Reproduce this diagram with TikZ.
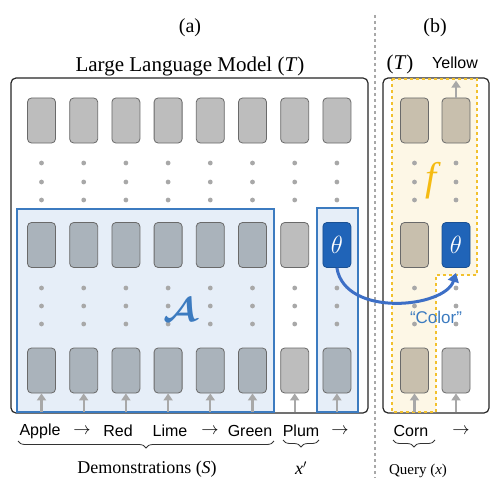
\documentclass[tikz,border=0pt]{standalone}
\usepackage{fontspec}
\setmainfont{Liberation Serif}
\newfontfamily\sansf{Liberation Sans}
\usepackage{bm}
\usepackage{graphicx}
\usetikzlibrary{arrows.meta,decorations.pathreplacing}
\definecolor{tokgray}{HTML}{BDBDBD}
\definecolor{tokblue}{HTML}{AAB3BB}
\definecolor{toktan}{HTML}{C8BFAD}
\definecolor{tokedge}{HTML}{6A6A6A}
\definecolor{boxblue}{HTML}{E6EEF8}
\definecolor{lineblue}{HTML}{3C7BC0}
\definecolor{thetablue}{HTML}{2064B8}
\definecolor{curveblue}{HTML}{3D6FC6}
\definecolor{yelfill}{HTML}{FDF7E6}
\definecolor{yelline}{HTML}{F2C12E}
\definecolor{dotgray}{HTML}{A8A8A8}
\definecolor{fyellow}{HTML}{F5BB12}
\tikzset{
  tok/.style={rounded corners=4pt, minimum width=28pt, minimum height=45pt, draw=tokedge, line width=0.8pt, inner sep=0pt},
  tokg/.style={tok, fill=tokgray},
  tokb/.style={tok, fill=tokblue},
  tokt/.style={tok, fill=toktan},
  tokth/.style={tok, fill=thetablue, draw=thetablue!80!black, text=white, font=\fontsize{24}{24}\selectfont},
  dotc/.style={fill=dotgray, draw=none},
  uparr/.style={draw=dotgray, line width=2.2pt, -{Triangle[length=7pt,width=9pt]}},
  lbl/.style={font=\sansf\fontsize{16}{18}\selectfont, inner sep=0pt},
  arr/.style={font=\fontsize{16}{18}\selectfont, inner sep=0pt},
  brc/.style={draw=black!80, line width=0.8pt, decorate, decoration={brace, mirror, amplitude=7pt}},
}
\newcommand{\boldA}{\resizebox{34pt}{23pt}{$\bm{\mathcal{A}}$}}
\begin{document}
\begin{tikzpicture}[x=1pt, y=-1pt]
\useasboundingbox (0,0) rectangle (500,492);
% main boxes
\draw[draw=black!85, line width=1.2pt, rounded corners=5pt, fill=white] (11,78) rectangle (368,413);
\draw[draw=black!85, line width=1.2pt, rounded corners=5pt, fill=white] (383,78) rectangle (489,413);
% blue regions
\draw[fill=boxblue, draw=lineblue, line width=1.5pt] (17,209) rectangle (274,412);
\draw[fill=boxblue, draw=lineblue, line width=1.5pt] (317,208) rectangle (358,412);
% yellow region
\draw[fill=yelfill, draw=yelline, dashed, line width=1.2pt] (392,79) -- (477,79) -- (477,275) -- (436,275) -- (436,412) -- (392,412) -- cycle;
% separator
\coordinate (s1) at (375,15);
\coordinate (s2) at (375,478);
\draw[dotgray, dashed, line width=1.2pt] (s1) -- (s2);
% dots
\foreach \xx in {41.5,83.7,125.9,168.1,210.3,252.5,294.7,336.9,414.5,456} {
  \foreach \yy in {163,182,200,288,306,324} {
    \fill[dotc] (\xx,\yy) circle (2.4pt);
  }
}
% left tokens
\foreach \i in {1,...,8} {
  \pgfmathsetmacro\xx{41.5+(\i-1)*42.2}
  \node[tokg] (t\i) at (\xx,120.5) {};
}
\foreach \i in {1,...,6} {
  \pgfmathsetmacro\xx{41.5+(\i-1)*42.2}
  \node[tokb] (m\i) at (\xx,245) {};
  \node[tokb] (b\i) at (\xx,370.5) {};
}
\node[tokg] (m7) at (294.7,245) {};
\node[tokg] (b7) at (294.7,370.5) {};
\node[tokth] (m8) at (336.9,245) {$\theta$};
\node[tokb] (b8) at (336.9,370.5) {};
% right tokens
\node[tokt] (rt1) at (414.5,120.5) {};
\node[tokt] (rt2) at (456,120.5) {};
\node[tokt] (rm1) at (414.5,245) {};
\node[tokth] (rm2) at (456,245) {$\theta$};
\node[tokt] (rb1) at (414.5,370.5) {};
\node[tokg] (rb2) at (456,370.5) {};
% input arrows
\foreach \n in {b1,b2,b3,b4,b5,b6,b7,b8,rb1,rb2} {
  \draw[uparr] ([yshift=-19pt]\n.south) -- (\n.south);
}
\draw[uparr] (rt2.north) -- ([yshift=17pt]rt2.north);
% curved arrow
\draw[curveblue, line width=3pt, -{Triangle[length=9pt,width=11pt]}] (m8.south) .. controls (345,318) and (445,308) .. ([yshift=-5pt]rm2.south);
% big symbols
\node[text=lineblue, inner sep=0pt] (A) at (180,310) {\boldA};
\node[text=fyellow, inner sep=0pt] (f) at (433,181) {\fontsize{40}{40}\selectfont\textit{f}};
\node[text=lineblue, inner sep=0pt] (col) at (436,317) {\sansf\fontsize{17}{18}\selectfont “Color”};
% titles
\node[inner sep=0pt] (ta) at (190,28) {\fontsize{20}{22}\selectfont (a)};
\node[inner sep=0pt] (tb) at (435,28) {\fontsize{20}{22}\selectfont (b)};
\node[inner sep=0pt] (llm) at (190,66) {\fontsize{21}{24}\selectfont Large Language Model (\textit{T})};
\node[inner sep=0pt] (tt) at (400,64) {\fontsize{21}{24}\selectfont (\textit{T})};
\node[lbl] (yel) at (455,63) {Yellow};
% bottom tokens
\node[lbl] (w1) at (40,431) {Apple};
\node[arr] (a1) at (82,431) {$\rightarrow$};
\node[lbl] (w2) at (118,431) {Red};
\node[lbl] (w3) at (170,431) {Lime};
\node[arr] (a2) at (210,431) {$\rightarrow$};
\node[lbl] (w4) at (250,431) {Green};
\node[lbl] (w5) at (301,431) {Plum};
\node[arr] (a3) at (340,431) {$\rightarrow$};
\node[lbl] (w6) at (411,431) {Corn};
\node[arr] (a4) at (461,431) {$\rightarrow$};
% braces
\draw[brc] (18,441) -- (274,441);
\draw[brc] (283,440) -- (319,440);
\draw[brc] (393,440) -- (435,440);
\node[inner sep=0pt] (dem) at (147,469) {\fontsize{18}{20}\selectfont Demonstrations (\textit{S})};
\node[inner sep=0pt] (xp) at (301,468) {\fontsize{18}{20}\selectfont \textit{x}$'$};
\node[inner sep=0pt] (qx) at (418,471) {\fontsize{15}{17}\selectfont Query (\textit{x})};
\end{tikzpicture}
\end{document}
